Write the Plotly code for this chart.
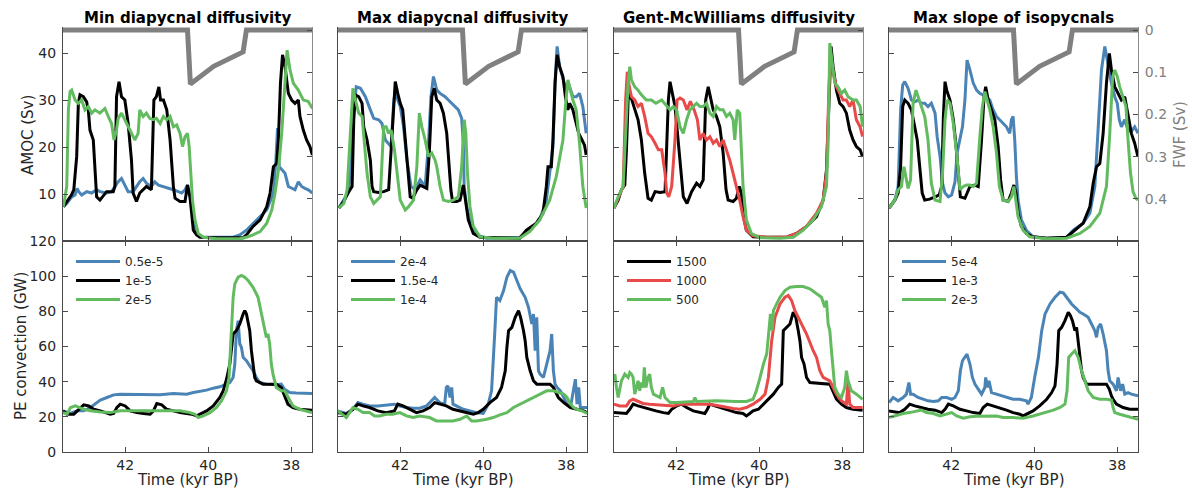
import plotly.graph_objects as go

W, H = 1192, 495

# ---------------------------------------------------------------------------
# Data: time in kyr BP, AMOC in Sv, PE convection in GW, freshwater forcing in Sv
# Each series is a list of (time, value) pairs.
# ---------------------------------------------------------------------------

time_ticks = [42, 40, 38]
amoc_ticks = [10, 20, 30, 40]
pe_ticks = [0, 20, 40, 60, 80, 100, 120]
fwf_ticks = [0, 0.1, 0.2, 0.3, 0.4]
fwf_tick_text = ["0", "0.1", "0.2", "0.3", "0.4"]

# freshwater forcing, identical in all experiments
fwf = [(43.5, 0.0), (40.5, 0.0), (40.43, 0.128), (39.87, 0.086), (39.16, 0.052),
       (39.08, 0.0), (37.5, 0.0)]

# --- Min diapycnal diffusivity ---------------------------------------------
kmin_05_amoc = [(43.49, 7.3), (43.41, 8.0), (43.29, 9.4), (43.21, 9.8), (43.16, 11.2), (43.12, 10.5),
                (43.05, 9.8), (42.93, 10.5), (42.81, 10.2), (42.69, 10.9), (42.61, 10.5), (42.45, 10.2),
                (42.33, 10.5), (42.25, 11.6), (42.17, 12.6), (42.09, 13.3), (42.01, 11.9), (41.93, 10.5),
                (41.81, 10.5), (41.73, 11.6), (41.65, 12.6), (41.57, 13.3), (41.49, 12.3), (41.37, 11.6),
                (41.29, 12.6), (41.20, 11.9), (41.08, 11.6), (40.96, 11.2), (40.84, 10.9), (40.72, 10.5),
                (40.64, 10.2), (40.56, 10.9), (40.50, 11.9), (40.44, 9.4), (40.38, 5.9), (40.28, 1.6),
                (40.12, 0.8), (39.40, 0.8), (39.24, 1.3), (39.08, 2.3), (38.92, 3.8), (38.75, 5.2),
                (38.59, 6.6), (38.43, 10.2), (38.37, 17.2), (38.33, 24.0), (38.29, 15.8), (38.23, 15.1),
                (38.15, 14.4), (38.07, 11.6), (37.99, 11.2), (37.91, 10.9), (37.83, 12.6), (37.75, 11.6),
                (37.67, 11.2), (37.59, 10.9), (37.49, 10.2)]
kmin_1_amoc = [(43.49, 7.3), (43.29, 9.9), (43.24, 10.9), (43.17, 18.0), (43.13, 29.3), (43.09, 31.1),
               (43.01, 30.7), (42.93, 29.6), (42.89, 27.9), (42.85, 23.6), (42.77, 21.5), (42.69, 9.4),
               (42.61, 8.7), (42.45, 10.5), (42.29, 10.5), (42.25, 11.6), (42.21, 30.7), (42.15, 33.9),
               (42.09, 30.7), (42.01, 30.0), (41.93, 25.0), (41.85, 17.2), (41.81, 10.2), (41.73, 8.4),
               (41.65, 10.2), (41.49, 11.6), (41.37, 10.9), (41.31, 30.0), (41.25, 30.7), (41.19, 32.8),
               (41.15, 30.0), (41.08, 30.0), (41.00, 27.9), (40.92, 21.5), (40.84, 11.6), (40.80, 9.1),
               (40.68, 8.4), (40.56, 8.4), (40.50, 11.9), (40.44, 9.4), (40.40, 5.9), (40.36, 2.3),
               (40.28, 1.3), (40.20, 0.8), (39.80, 0.7), (39.16, 0.7), (39.08, 1.3), (38.92, 3.1),
               (38.75, 4.5), (38.59, 7.3), (38.51, 10.2), (38.43, 15.8), (38.35, 16.5), (38.31, 21.5),
               (38.26, 33.6), (38.21, 39.6), (38.15, 37.1), (38.07, 31.4), (37.99, 30.0), (37.91, 29.3),
               (37.83, 30.0), (37.79, 26.5), (37.71, 23.6), (37.63, 21.5), (37.55, 20.1), (37.49, 18.3)]
kmin_2_amoc = [(43.49, 7.3), (43.41, 11.6), (43.37, 27.9), (43.33, 31.8), (43.29, 32.1), (43.21, 30.0),
               (43.13, 29.3), (43.05, 30.0), (42.97, 27.9), (42.89, 28.6), (42.81, 27.2), (42.73, 27.9),
               (42.61, 27.2), (42.49, 28.2), (42.41, 26.5), (42.33, 25.0), (42.27, 21.5), (42.21, 23.6),
               (42.17, 26.1), (42.09, 27.2), (42.01, 25.8), (41.93, 24.3), (41.85, 22.9), (41.77, 21.5),
               (41.69, 22.9), (41.65, 27.9), (41.57, 26.5), (41.49, 27.2), (41.41, 26.1), (41.33, 25.8),
               (41.25, 26.1), (41.16, 25.0), (41.08, 26.5), (41.00, 25.8), (40.92, 26.5), (40.84, 24.3),
               (40.76, 24.7), (40.68, 22.9), (40.62, 20.1), (40.56, 22.2), (40.50, 22.9), (40.46, 20.1),
               (40.43, 15.8), (40.38, 8.7), (40.32, 4.5), (40.24, 1.6), (40.12, 0.8), (39.80, 0.5),
               (39.24, 0.5), (39.08, 0.8), (38.92, 1.3), (38.75, 2.0), (38.59, 3.8), (38.47, 6.6),
               (38.39, 10.2), (38.31, 15.1), (38.23, 22.9), (38.15, 33.6), (38.10, 40.6), (38.03, 36.4),
               (37.95, 33.6), (37.83, 32.1), (37.71, 30.0), (37.59, 29.7), (37.49, 28.2)]
kmin_05_pe = [(43.50, 23.4), (43.32, 21.9), (43.16, 23.4), (43.00, 23.4), (42.84, 25.3), (42.72, 27.2),
              (42.60, 29.5), (42.44, 31.0), (42.28, 32.5), (42.12, 32.9), (41.80, 32.9), (41.64, 32.5),
              (41.32, 32.9), (41.16, 32.5), (40.84, 33.3), (40.52, 32.9), (40.36, 33.8), (40.20, 34.4),
              (40.04, 35.2), (39.88, 36.3), (39.72, 37.1), (39.56, 38.6), (39.48, 39.5), (39.40, 42.4),
              (39.36, 50.0), (39.32, 69.0), (39.28, 74.7), (39.24, 61.4), (39.20, 59.5), (39.16, 53.8),
              (39.08, 51.9), (39.00, 49.0), (38.92, 46.2), (38.84, 42.4), (38.76, 39.5), (38.60, 38.6),
              (38.36, 38.2), (38.24, 38.6), (38.16, 35.7), (38.04, 33.8), (37.88, 33.5), (37.50, 33.3)]
kmin_1_pe = [(43.50, 23.4), (43.40, 21.5), (43.24, 21.5), (43.12, 24.3), (43.00, 26.8), (42.88, 26.2),
             (42.76, 24.3), (42.60, 23.4), (42.48, 22.4), (42.36, 21.5), (42.28, 21.9), (42.20, 25.3),
             (42.12, 27.2), (42.00, 26.2), (41.88, 23.4), (41.72, 22.4), (41.56, 21.9), (41.40, 21.5),
             (41.32, 23.4), (41.24, 27.6), (41.12, 26.8), (41.00, 24.3), (40.84, 23.4), (40.68, 22.4),
             (40.52, 21.9), (40.40, 21.5), (40.28, 20.5), (40.20, 21.5), (40.04, 23.4), (39.88, 26.2),
             (39.72, 31.0), (39.64, 34.8), (39.56, 41.4), (39.48, 50.0), (39.40, 67.1), (39.32, 69.0),
             (39.24, 72.8), (39.16, 78.5), (39.12, 80.4), (39.08, 78.5), (39.04, 72.8), (39.00, 69.0),
             (38.96, 57.6), (38.92, 50.0), (38.88, 42.4), (38.84, 40.5), (38.68, 38.6), (38.36, 38.6),
             (38.24, 36.7), (38.16, 31.9), (38.08, 27.2), (37.96, 25.3), (37.80, 24.3), (37.50, 23.8)]
kmin_2_pe = [(43.50, 22.4), (43.40, 21.5), (43.32, 25.3), (43.20, 26.2), (43.00, 24.3), (42.84, 23.4),
             (42.60, 22.8), (42.36, 22.4), (42.12, 23.4), (41.40, 23.4), (41.00, 23.8), (40.68, 23.4),
             (40.44, 22.4), (40.32, 21.5), (40.24, 19.6), (40.12, 20.5), (39.96, 22.4), (39.80, 25.3),
             (39.68, 29.1), (39.56, 34.8), (39.50, 42.4), (39.46, 59.5), (39.42, 76.6), (39.40, 88.0),
             (39.36, 95.6), (39.28, 99.4), (39.20, 100.4), (39.12, 99.4), (39.04, 97.5), (38.92, 93.7),
             (38.80, 88.0), (38.72, 78.5), (38.64, 69.0), (38.60, 65.2), (38.56, 67.1), (38.52, 61.4),
             (38.48, 50.0), (38.44, 44.3), (38.36, 36.7), (38.24, 34.8), (38.16, 34.8), (38.12, 32.9),
             (38.04, 29.1), (37.96, 26.2), (37.80, 24.3), (37.64, 23.4), (37.50, 22.4)]

# --- Max diapycnal diffusivity ---------------------------------------------
kmax_2_amoc = [(43.48, 7.0), (43.24, 10.5), (43.12, 27.9), (43.06, 32.8), (42.96, 32.5), (42.84, 30.7),
               (42.72, 27.9), (42.64, 26.1), (42.52, 25.8), (42.44, 25.0), (42.36, 21.5), (42.28, 20.8),
               (42.22, 20.1), (42.16, 29.3), (42.12, 32.1), (42.06, 30.0), (42.00, 28.6), (41.92, 24.3),
               (41.84, 17.2), (41.74, 11.6), (41.64, 10.9), (41.52, 13.0), (41.40, 11.6), (41.32, 20.8),
               (41.26, 30.7), (41.20, 35.0), (41.12, 32.1), (41.04, 31.4), (40.92, 30.7), (40.84, 30.0),
               (40.76, 29.3), (40.68, 28.6), (40.60, 27.9), (40.52, 26.1), (40.48, 20.8), (40.46, 11.6),
               (40.40, 7.3), (40.28, 3.1), (40.16, 1.3), (39.92, 0.6), (39.12, 0.8), (38.88, 2.3),
               (38.64, 4.5), (38.48, 8.7), (38.40, 14.4), (38.32, 20.1), (38.26, 35.7), (38.22, 41.4),
               (38.16, 37.1), (38.08, 34.3), (38.00, 32.1), (37.92, 32.8), (37.84, 30.7), (37.76, 30.7),
               (37.68, 31.4), (37.60, 28.6), (37.52, 22.9)]
kmax_15_amoc = [(43.48, 7.0), (43.36, 8.4), (43.24, 10.5), (43.16, 11.6), (43.12, 25.8), (43.08, 31.1),
                (43.00, 30.7), (42.92, 29.3), (42.88, 24.3), (42.80, 21.5), (42.72, 17.2), (42.68, 11.6),
                (42.64, 10.5), (42.52, 10.3), (42.40, 10.5), (42.28, 10.9), (42.22, 19.4), (42.16, 27.2),
                (42.12, 33.9), (42.06, 31.4), (42.00, 29.3), (41.94, 27.9), (41.88, 21.5), (41.82, 14.4),
                (41.76, 9.4), (41.70, 9.1), (41.60, 10.9), (41.52, 11.9), (41.44, 11.6), (41.36, 11.2),
                (41.30, 18.7), (41.24, 30.7), (41.18, 32.5), (41.12, 30.0), (41.04, 29.3), (40.96, 27.2),
                (40.88, 22.9), (40.84, 17.9), (40.78, 10.9), (40.74, 8.4), (40.64, 8.4), (40.56, 8.7),
                (40.48, 11.9), (40.44, 9.4), (40.36, 4.5), (40.24, 1.6), (40.08, 0.8), (39.12, 0.6),
                (38.96, 2.3), (38.72, 3.8), (38.56, 5.9), (38.48, 11.6), (38.44, 15.8), (38.36, 15.8),
                (38.32, 21.5), (38.27, 33.6), (38.22, 39.6), (38.16, 37.1), (38.08, 35.0), (38.02, 30.7),
                (37.96, 27.9), (37.92, 29.3), (37.84, 27.9), (37.76, 25.0), (37.70, 22.9), (37.62, 21.5),
                (37.56, 20.4), (37.52, 18.3)]
kmax_1_amoc = [(43.48, 7.0), (43.36, 8.0), (43.28, 10.9), (43.20, 24.3), (43.14, 32.5), (43.08, 30.0),
               (43.00, 27.2), (42.92, 26.5), (42.86, 19.4), (42.80, 14.4), (42.72, 9.4), (42.64, 8.0),
               (42.56, 8.7), (42.48, 9.4), (42.40, 24.3), (42.34, 24.3), (42.28, 22.9), (42.22, 23.6),
               (42.14, 19.4), (42.08, 14.4), (42.00, 8.7), (41.88, 6.6), (41.80, 7.3), (41.68, 8.7),
               (41.60, 15.8), (41.54, 27.2), (41.48, 24.3), (41.40, 21.5), (41.32, 18.0), (41.24, 18.7),
               (41.16, 17.2), (41.12, 15.8), (41.04, 11.6), (40.96, 8.7), (40.84, 8.4), (40.72, 8.7),
               (40.60, 9.4), (40.52, 15.8), (40.46, 25.8), (40.42, 22.9), (40.38, 14.4), (40.32, 7.3),
               (40.24, 3.1), (40.08, 0.9), (39.76, 0.6), (39.12, 0.6), (38.88, 2.0), (38.64, 4.5),
               (38.40, 8.7), (38.24, 13.7), (38.16, 18.0), (38.08, 21.5), (38.02, 28.6), (37.96, 34.3),
               (37.90, 32.1), (37.84, 30.0), (37.76, 27.9), (37.68, 20.8), (37.60, 11.6), (37.52, 7.0)]
kmax_2_pe = [(43.51, 23.4), (43.30, 21.9), (43.14, 24.3), (43.02, 28.1), (42.90, 27.2), (42.74, 26.2),
             (42.54, 26.2), (42.34, 26.8), (42.14, 27.2), (42.01, 26.2), (41.85, 25.3), (41.69, 24.9),
             (41.53, 24.9), (41.37, 26.2), (41.25, 29.1), (41.17, 31.0), (41.05, 28.1), (40.93, 27.2),
             (40.89, 36.7), (40.85, 37.6), (40.80, 31.0), (40.76, 36.7), (40.73, 27.2), (40.64, 26.2),
             (40.48, 24.3), (40.32, 23.4), (40.16, 22.4), (40.00, 21.9), (39.88, 27.2), (39.80, 34.8),
             (39.76, 50.0), (39.72, 69.0), (39.68, 88.0), (39.60, 86.1), (39.51, 91.8), (39.43, 99.4),
             (39.35, 103.2), (39.27, 102.3), (39.19, 97.5), (39.11, 92.8), (38.99, 88.0), (38.91, 82.3),
             (38.83, 72.8), (38.79, 78.5), (38.75, 57.6), (38.71, 76.6), (38.67, 46.2), (38.63, 44.3),
             (38.55, 42.4), (38.47, 50.0), (38.39, 57.6), (38.35, 67.1), (38.31, 46.2), (38.27, 38.6),
             (38.22, 36.7), (38.14, 34.8), (38.06, 31.0), (37.98, 27.2), (37.90, 25.3), (37.82, 34.8),
             (37.78, 41.4), (37.74, 27.2), (37.70, 36.7), (37.66, 25.3), (37.50, 25.3)]
kmax_15_pe = [(43.51, 22.4), (43.30, 21.5), (43.14, 24.3), (43.02, 27.2), (42.90, 26.2), (42.74, 25.3),
              (42.54, 23.4), (42.34, 22.4), (42.14, 23.4), (42.06, 27.2), (41.93, 26.2), (41.77, 24.3),
              (41.61, 22.4), (41.45, 23.4), (41.29, 25.3), (41.17, 28.1), (41.05, 27.2), (40.89, 26.2),
              (40.73, 24.3), (40.56, 23.4), (40.40, 22.4), (40.24, 21.5), (40.12, 22.4), (40.00, 24.3),
              (39.84, 28.1), (39.68, 31.0), (39.56, 36.7), (39.47, 46.2), (39.43, 59.5), (39.39, 69.0),
              (39.31, 70.9), (39.23, 76.6), (39.15, 80.4), (39.10, 76.6), (39.03, 69.0), (38.99, 63.3),
              (38.95, 53.8), (38.87, 46.2), (38.79, 40.5), (38.71, 38.6), (38.39, 38.6), (38.31, 36.7),
              (38.27, 34.8), (38.19, 31.0), (38.06, 28.1), (37.90, 25.3), (37.74, 24.3), (37.58, 23.4),
              (37.50, 22.4)]
kmax_1_pe = [(43.51, 23.4), (43.39, 21.5), (43.30, 19.6), (43.22, 22.4), (43.14, 25.3), (43.02, 24.3),
             (42.90, 22.4), (42.74, 22.4), (42.62, 20.5), (42.50, 20.5), (42.34, 21.5), (42.18, 21.5),
             (42.01, 22.4), (41.85, 20.5), (41.69, 19.6), (41.53, 20.5), (41.29, 19.6), (41.13, 17.7),
             (40.73, 17.7), (40.56, 18.6), (40.40, 20.5), (40.28, 17.7), (40.16, 17.7), (39.92, 18.6),
             (39.76, 19.6), (39.60, 21.1), (39.43, 22.4), (39.27, 25.3), (39.11, 27.2), (38.95, 29.1),
             (38.79, 31.0), (38.63, 32.9), (38.47, 34.8), (38.31, 34.8), (38.19, 33.8), (38.06, 32.9),
             (37.98, 31.0), (37.90, 27.2), (37.82, 25.3), (37.74, 24.3), (37.62, 23.4), (37.50, 21.9)]

# --- Gent-McWilliams diffusivity -------------------------------------------
gm_1500_amoc = [(43.50, 7.0), (43.40, 8.7), (43.32, 10.9), (43.24, 11.9), (43.20, 19.4), (43.16, 30.0),
                (43.12, 31.4), (43.06, 29.7), (43.00, 27.9), (42.92, 25.8), (42.84, 21.5), (42.76, 14.4),
                (42.68, 9.1), (42.60, 8.7), (42.51, 10.5), (42.39, 10.3), (42.27, 10.5), (42.23, 20.8),
                (42.19, 30.0), (42.15, 33.9), (42.09, 31.1), (42.03, 28.6), (41.97, 22.9), (41.90, 15.8),
                (41.83, 9.4), (41.74, 8.0), (41.63, 10.5), (41.51, 12.3), (41.43, 11.6), (41.35, 13.0),
                (41.29, 30.0), (41.23, 32.8), (41.17, 30.0), (41.11, 27.9), (41.03, 26.5), (40.95, 24.3),
                (40.87, 18.7), (40.80, 10.9), (40.75, 8.7), (40.63, 8.4), (40.55, 9.1), (40.48, 11.6),
                (40.43, 10.2), (40.39, 5.9), (40.31, 2.3), (40.15, 0.9), (39.82, 0.8), (39.34, 0.8),
                (39.10, 1.6), (38.86, 3.1), (38.62, 5.2), (38.46, 8.7), (38.38, 15.1), (38.32, 28.6),
                (38.27, 41.4), (38.22, 37.1), (38.14, 32.1), (38.06, 29.3), (37.98, 28.6), (37.90, 27.2),
                (37.82, 23.6), (37.74, 21.5), (37.66, 20.1), (37.57, 19.4), (37.51, 17.9)]
gm_1000_amoc = [(43.50, 7.0), (43.36, 10.2), (43.28, 11.6), (43.22, 30.0), (43.18, 36.0), (43.13, 32.8),
                (43.08, 30.7), (43.00, 30.0), (42.92, 28.6), (42.84, 29.3), (42.76, 26.5), (42.68, 22.9),
                (42.60, 22.2), (42.51, 20.8), (42.43, 19.4), (42.35, 19.4), (42.31, 17.2), (42.27, 14.4),
                (42.23, 10.2), (42.18, 9.4), (42.11, 11.6), (42.03, 21.5), (41.98, 30.0), (41.91, 30.4),
                (41.83, 30.0), (41.74, 27.9), (41.66, 29.7), (41.57, 27.9), (41.49, 25.8), (41.43, 21.5),
                (41.35, 22.9), (41.27, 21.5), (41.19, 22.2), (41.11, 20.8), (41.03, 21.5), (40.95, 20.1),
                (40.87, 21.5), (40.79, 19.4), (40.71, 17.2), (40.63, 14.4), (40.55, 11.6), (40.47, 8.7),
                (40.39, 5.2), (40.31, 2.3), (40.15, 1.1), (39.82, 0.8), (39.34, 0.8), (39.10, 1.6),
                (38.86, 3.1), (38.62, 5.9), (38.46, 8.7), (38.38, 14.4), (38.32, 32.8), (38.28, 39.2),
                (38.22, 35.7), (38.14, 32.8), (38.06, 31.4), (37.98, 30.0), (37.90, 30.0), (37.82, 28.6),
                (37.74, 30.0), (37.66, 25.8), (37.57, 24.3), (37.51, 22.2)]
gm_500_amoc = [(43.50, 7.0), (43.40, 9.4), (43.28, 11.6), (43.21, 26.5), (43.16, 33.6), (43.12, 37.1),
               (43.08, 34.3), (43.00, 32.8), (42.92, 32.1), (42.84, 31.1), (42.72, 30.0), (42.60, 30.0),
               (42.49, 29.3), (42.35, 30.0), (42.23, 28.6), (42.15, 27.9), (42.07, 28.6), (41.99, 27.9),
               (41.91, 24.3), (41.83, 22.9), (41.75, 25.8), (41.67, 27.9), (41.59, 28.6), (41.51, 29.3),
               (41.43, 28.6), (41.35, 28.6), (41.27, 29.3), (41.19, 27.2), (41.11, 26.5), (41.03, 28.6),
               (40.95, 27.9), (40.87, 27.9), (40.79, 26.5), (40.71, 27.2), (40.63, 25.8), (40.59, 21.5),
               (40.53, 27.9), (40.47, 27.2), (40.43, 19.4), (40.39, 11.6), (40.31, 4.5), (40.19, 1.6),
               (39.98, 0.7), (39.50, 0.6), (39.18, 0.8), (38.94, 2.3), (38.70, 4.5), (38.50, 7.3),
               (38.38, 11.6), (38.34, 20.8), (38.30, 42.1), (38.24, 37.1), (38.18, 33.6), (38.10, 32.8),
               (38.02, 31.4), (37.94, 32.1), (37.86, 30.7), (37.74, 30.0), (37.66, 30.0), (37.57, 28.6),
               (37.51, 24.3)]
gm_1500_pe = [(43.50, 22.4), (43.20, 21.9), (43.12, 24.3), (43.04, 27.2), (42.92, 26.2), (42.80, 25.3),
              (42.64, 24.3), (42.49, 23.4), (42.31, 22.4), (42.19, 21.9), (42.11, 24.3), (41.99, 26.2),
              (41.87, 27.2), (41.75, 25.3), (41.59, 23.4), (41.43, 22.4), (41.31, 21.9), (41.25, 24.3),
              (41.19, 27.2), (41.07, 26.2), (40.95, 25.3), (40.83, 24.3), (40.71, 23.4), (40.55, 22.4),
              (40.39, 21.9), (40.31, 20.5), (40.23, 21.9), (40.15, 23.4), (40.02, 24.3), (39.90, 27.2),
              (39.78, 30.0), (39.66, 32.9), (39.54, 36.7), (39.46, 38.6), (39.42, 69.0), (39.34, 70.9),
              (39.26, 72.8), (39.18, 79.5), (39.12, 76.6), (39.06, 69.0), (39.02, 63.3), (38.98, 53.8),
              (38.92, 50.0), (38.86, 42.4), (38.78, 39.5), (38.30, 38.6), (38.22, 33.8), (38.14, 30.0),
              (38.02, 27.2), (37.90, 25.3), (37.74, 24.3), (37.51, 23.8)]
gm_1000_pe = [(43.50, 27.2), (43.36, 26.2), (43.20, 26.2), (43.12, 29.1), (43.04, 30.0), (42.92, 28.7),
              (42.80, 27.6), (42.64, 27.2), (42.23, 26.2), (42.07, 26.2), (41.91, 27.2), (41.75, 27.2),
              (41.43, 26.8), (41.19, 27.2), (40.95, 26.2), (40.79, 25.3), (40.63, 24.7), (40.47, 24.3),
              (40.31, 25.3), (40.15, 27.2), (39.98, 30.0), (39.86, 32.9), (39.78, 42.4), (39.70, 63.3),
              (39.62, 76.6), (39.50, 84.2), (39.38, 88.0), (39.30, 89.0), (39.22, 86.1), (39.14, 80.4),
              (39.02, 74.7), (38.86, 67.1), (38.70, 57.6), (38.62, 53.8), (38.54, 46.2), (38.46, 42.4),
              (38.38, 41.4), (38.30, 40.5), (38.22, 36.7), (38.14, 32.9), (38.02, 29.1), (37.90, 27.2),
              (37.86, 40.5), (37.82, 27.2), (37.74, 25.3), (37.51, 25.3)]
gm_500_pe = [(43.50, 42.4), (43.48, 44.3), (43.44, 36.7), (43.40, 31.0), (43.32, 40.5), (43.24, 44.3),
             (43.16, 42.4), (43.12, 45.2), (43.08, 44.3), (43.04, 42.4), (43.00, 32.9), (42.96, 36.7),
             (42.92, 40.5), (42.88, 34.8), (42.84, 39.5), (42.80, 36.7), (42.77, 48.1), (42.73, 36.7),
             (42.68, 42.4), (42.64, 44.3), (42.60, 36.7), (42.55, 32.9), (42.47, 31.9), (42.39, 31.0),
             (42.33, 36.7), (42.27, 31.0), (42.15, 28.1), (41.99, 28.1), (41.59, 28.7), (41.55, 31.0),
             (41.51, 28.7), (41.03, 29.1), (40.55, 28.7), (40.31, 28.7), (40.15, 30.0), (40.07, 34.8),
             (39.98, 42.4), (39.90, 50.0), (39.82, 55.7), (39.77, 67.1), (39.73, 78.5), (39.69, 69.0),
             (39.66, 80.4), (39.58, 84.2), (39.50, 88.0), (39.38, 91.8), (39.26, 93.7), (39.10, 94.1),
             (38.94, 94.1), (38.78, 92.8), (38.62, 89.9), (38.50, 88.0), (38.42, 82.3), (38.38, 86.1),
             (38.34, 72.8), (38.30, 69.0), (38.26, 57.6), (38.22, 46.2), (38.18, 36.7), (38.10, 32.9),
             (38.02, 31.0), (37.94, 36.7), (37.90, 46.2), (37.86, 40.5), (37.78, 34.8), (37.66, 32.9),
             (37.51, 30.0)]

# --- Max slope of isopycnals -----------------------------------------------
slope_5e4_amoc = [(43.50, 7.0), (43.36, 8.7), (43.28, 11.6), (43.22, 27.9), (43.17, 33.2), (43.12, 33.9),
                  (43.04, 32.5), (42.96, 30.0), (42.88, 29.6), (42.80, 30.0), (42.72, 29.3), (42.64, 29.3),
                  (42.56, 28.6), (42.48, 29.3), (42.39, 27.2), (42.34, 22.2), (42.27, 18.0), (42.21, 12.3),
                  (42.15, 10.2), (42.07, 9.4), (41.99, 9.8), (41.91, 12.6), (41.86, 18.7), (41.79, 21.5),
                  (41.73, 24.3), (41.67, 30.0), (41.62, 38.5), (41.55, 36.4), (41.47, 33.6), (41.39, 32.1),
                  (41.31, 31.4), (41.23, 31.1), (41.15, 30.7), (41.07, 30.0), (40.99, 27.9), (40.91, 26.5),
                  (40.83, 25.8), (40.75, 25.0), (40.67, 24.3), (40.59, 22.9), (40.55, 25.8), (40.51, 26.5),
                  (40.47, 21.5), (40.43, 13.7), (40.39, 8.7), (40.31, 4.5), (40.19, 2.3), (40.03, 0.9),
                  (39.70, 0.6), (39.22, 0.8), (39.06, 2.3), (38.82, 3.8), (38.66, 5.9), (38.54, 11.6),
                  (38.46, 22.9), (38.38, 36.4), (38.30, 41.4), (38.22, 37.1), (38.14, 33.6), (38.06, 30.7),
                  (38.00, 29.3), (37.95, 25.8), (37.90, 24.3), (37.82, 25.8), (37.74, 23.6), (37.66, 23.3),
                  (37.58, 24.3), (37.50, 22.9)]
slope_1e3_amoc = [(43.50, 7.0), (43.36, 8.7), (43.28, 10.2), (43.22, 15.8), (43.17, 28.6), (43.12, 30.0),
                  (43.04, 29.3), (42.96, 27.9), (42.88, 24.3), (42.82, 21.5), (42.76, 15.8), (42.70, 10.2),
                  (42.64, 8.7), (42.52, 8.9), (42.39, 9.4), (42.29, 9.8), (42.23, 11.6), (42.19, 26.5),
                  (42.15, 33.9), (42.11, 32.1), (42.03, 30.0), (41.95, 25.8), (41.89, 20.8), (41.83, 14.4),
                  (41.78, 9.4), (41.67, 9.1), (41.55, 11.6), (41.43, 11.9), (41.35, 11.6), (41.27, 21.5),
                  (41.21, 30.7), (41.17, 32.8), (41.11, 30.0), (41.03, 27.9), (40.95, 25.8), (40.87, 20.1),
                  (40.81, 13.0), (40.75, 8.7), (40.63, 8.4), (40.55, 10.2), (40.49, 11.9), (40.44, 10.2),
                  (40.39, 5.9), (40.31, 3.1), (40.19, 1.6), (40.03, 0.9), (39.70, 0.6), (39.22, 0.8),
                  (39.06, 2.0), (38.82, 3.8), (38.66, 7.3), (38.58, 12.3), (38.50, 15.8), (38.42, 16.5),
                  (38.34, 22.9), (38.26, 33.6), (38.19, 39.9), (38.14, 36.4), (38.06, 32.8), (37.98, 31.4),
                  (37.90, 30.0), (37.82, 30.7), (37.74, 27.2), (37.66, 22.9), (37.58, 20.8), (37.50, 17.9)]
slope_2e3_amoc = [(43.50, 7.0), (43.36, 8.7), (43.28, 10.9), (43.20, 11.6), (43.14, 15.8), (43.09, 13.0),
                  (43.04, 11.2), (42.98, 13.0), (42.92, 29.3), (42.85, 32.1), (42.80, 30.7), (42.72, 28.6),
                  (42.64, 26.5), (42.56, 21.5), (42.48, 12.3), (42.39, 8.7), (42.27, 8.4), (42.21, 14.4),
                  (42.15, 25.8), (42.10, 30.0), (42.03, 29.3), (41.95, 25.0), (41.87, 18.7), (41.79, 10.9),
                  (41.71, 11.6), (41.63, 11.9), (41.55, 11.9), (41.47, 11.6), (41.39, 12.3), (41.31, 22.2),
                  (41.25, 28.6), (41.19, 31.8), (41.13, 30.0), (41.07, 27.9), (40.99, 24.3), (40.91, 18.7),
                  (40.84, 11.6), (40.75, 8.7), (40.63, 8.4), (40.55, 9.4), (40.49, 11.6), (40.44, 8.7),
                  (40.39, 5.2), (40.27, 2.3), (40.11, 0.9), (39.70, 0.5), (39.22, 0.6), (38.90, 1.6),
                  (38.66, 3.1), (38.42, 5.9), (38.26, 11.6), (38.18, 22.9), (38.11, 35.0), (38.06, 36.4),
                  (38.00, 35.0), (37.94, 32.8), (37.86, 30.7), (37.79, 28.6), (37.74, 21.5), (37.68, 14.4),
                  (37.62, 10.5), (37.55, 9.1), (37.50, 8.7)]
slope_5e4_pe = [(43.50, 28.1), (43.40, 31.0), (43.28, 29.1), (43.16, 31.0), (43.08, 32.9), (43.02, 39.5),
                (42.98, 32.9), (42.92, 32.9), (42.80, 31.0), (42.68, 30.0), (42.56, 29.1), (42.43, 28.7),
                (42.31, 29.1), (42.23, 31.0), (42.11, 31.0), (41.99, 30.0), (41.91, 31.0), (41.83, 34.8),
                (41.78, 46.2), (41.73, 51.9), (41.67, 53.8), (41.62, 55.7), (41.55, 50.0), (41.49, 42.4),
                (41.43, 38.6), (41.35, 35.7), (41.27, 32.9), (41.19, 36.7), (41.17, 42.4), (41.13, 36.7),
                (41.09, 40.5), (41.03, 33.8), (40.91, 32.9), (40.79, 31.9), (40.67, 31.0), (40.51, 30.0),
                (40.35, 30.0), (40.19, 29.1), (40.15, 27.2), (40.07, 31.0), (39.99, 42.4), (39.90, 53.8),
                (39.82, 69.0), (39.74, 78.5), (39.62, 84.2), (39.50, 88.0), (39.38, 90.9), (39.30, 90.5),
                (39.22, 88.0), (39.10, 84.2), (38.98, 81.4), (38.90, 79.5), (38.82, 78.5), (38.70, 76.6),
                (38.62, 72.8), (38.54, 69.0), (38.50, 65.2), (38.46, 70.9), (38.40, 72.8), (38.34, 67.1),
                (38.26, 57.6), (38.22, 46.2), (38.18, 40.5), (38.10, 38.6), (38.02, 34.8), (37.98, 42.4),
                (37.92, 34.8), (37.87, 38.6), (37.82, 32.9), (37.74, 33.8), (37.66, 32.9), (37.50, 31.9)]
slope_1e3_pe = [(43.50, 23.4), (43.24, 22.4), (43.12, 24.3), (43.00, 27.2), (42.88, 26.2), (42.72, 25.3),
                (42.56, 24.3), (42.39, 23.8), (42.23, 22.4), (42.15, 24.3), (42.07, 27.2), (41.95, 26.2),
                (41.79, 24.3), (41.63, 23.4), (41.47, 22.4), (41.31, 21.9), (41.23, 25.3), (41.13, 27.2),
                (40.99, 26.2), (40.83, 25.3), (40.67, 23.8), (40.51, 22.4), (40.35, 21.5), (40.27, 20.5),
                (40.19, 21.5), (40.03, 23.4), (39.87, 26.2), (39.70, 30.0), (39.58, 33.8), (39.50, 37.6),
                (39.45, 50.0), (39.41, 69.0), (39.34, 70.9), (39.26, 74.7), (39.18, 79.5), (39.13, 77.6),
                (39.08, 74.7), (39.02, 69.0), (38.98, 70.9), (38.94, 61.4), (38.90, 53.8), (38.86, 46.2),
                (38.82, 42.4), (38.74, 38.6), (38.26, 38.6), (38.19, 35.7), (38.14, 31.9), (38.10, 30.0),
                (38.02, 27.2), (37.86, 25.3), (37.70, 24.3), (37.50, 24.3)]
slope_2e3_pe = [(43.50, 19.6), (43.36, 20.5), (43.16, 21.9), (43.00, 22.4), (42.84, 23.4), (42.72, 23.8),
                (42.60, 22.4), (42.43, 21.9), (42.27, 20.5), (42.11, 21.5), (41.99, 22.4), (41.87, 20.5),
                (41.71, 19.2), (41.55, 20.0), (41.39, 20.3), (40.91, 20.5), (40.75, 19.6), (40.51, 19.6),
                (40.27, 19.2), (40.03, 20.5), (39.87, 21.5), (39.70, 22.4), (39.54, 23.8), (39.38, 25.3),
                (39.26, 27.2), (39.21, 34.8), (39.17, 53.8), (39.10, 55.7), (39.02, 57.6), (38.94, 53.8),
                (38.86, 46.2), (38.78, 40.5), (38.70, 34.8), (38.58, 31.0), (38.42, 30.0), (38.26, 30.0),
                (38.14, 29.5), (38.10, 25.3), (38.06, 22.4), (37.94, 21.5), (37.78, 20.5), (37.62, 19.2),
                (37.50, 18.6)]

# ---------------------------------------------------------------------------
# Styling
# ---------------------------------------------------------------------------
BLUE = "#4a84b6"
BLACK = "#000000"
GREEN = "#63bb5f"
RED = "#e84a4a"
FWF_GREY = "#808080"
AX = "#4a4a4a"
TXT = "#262626"
FONT = "DejaVu Sans"

panels = [
    dict(title="Min diapycnal diffusivity",
         series=[("0.5e-5", BLUE, kmin_05_amoc, kmin_05_pe),
                 ("1e-5", BLACK, kmin_1_amoc, kmin_1_pe),
                 ("2e-5", GREEN, kmin_2_amoc, kmin_2_pe)]),
    dict(title="Max diapycnal diffusivity",
         series=[("2e-4", BLUE, kmax_2_amoc, kmax_2_pe),
                 ("1.5e-4", BLACK, kmax_15_amoc, kmax_15_pe),
                 ("1e-4", GREEN, kmax_1_amoc, kmax_1_pe)]),
    dict(title="Gent-McWilliams diffusivity",
         series=[("1500", BLACK, gm_1500_amoc, gm_1500_pe),
                 ("1000", RED, gm_1000_amoc, gm_1000_pe),
                 ("500", GREEN, gm_500_amoc, gm_500_pe)]),
    dict(title="Max slope of isopycnals",
         series=[("5e-4", BLUE, slope_5e4_amoc, slope_5e4_pe),
                 ("1e-3", BLACK, slope_1e3_amoc, slope_1e3_pe),
                 ("2e-3", GREEN, slope_2e3_amoc, slope_2e3_pe)]),
]


def split(pairs):
    return [p[0] for p in pairs], [p[1] for p in pairs]


def xp(px):
    return px / W


def yp(py):
    return 1 - py / H


panel_left = [63, 338, 614, 889]
panel_width = 249
top_px, mid_px, bottom_px = 27, 241, 452
# scale of the upper panels: 0 Sv at y=241, 4.7 px per Sv; FWF 0 at y=30, 422 px per Sv
amoc_range = [0, (mid_px - top_px) / 4.7]
fwf_range = [(mid_px - 30) / 422.0, (30 - top_px) / -422.0]

fig = go.Figure()
layout = dict(
    template="none",
    width=W, height=H, margin=dict(l=0, r=0, t=0, b=0, autoexpand=False),
    paper_bgcolor="white", plot_bgcolor="white", showlegend=True,
    font=dict(family=FONT, size=14, color=TXT),
)

axis_base = dict(showline=True, linecolor=AX, linewidth=1, ticks="inside", ticklen=5,
                 tickwidth=1, tickcolor=AX, showgrid=False, zeroline=False, automargin=False,
                 tickfont=dict(family=FONT, size=14, color=TXT))

annotations = []
t_fwf, v_fwf = split(fwf)


def note(text, x, y, size=15, color=TXT, angle=0):
    return dict(text=text, x=x, y=y, xref="paper", yref="paper", xanchor="center",
                yanchor="middle", textangle=angle, showarrow=False,
                font=dict(family=FONT, size=size, color=color))


for i, p in enumerate(panels):
    xt, yt = f"x{i + 1}", f"y{i + 1}"
    xb, yb = f"x{i + 5}", f"y{i + 5}"
    yf = f"y{i + 9}"
    dom_x = [xp(panel_left[i]), xp(panel_left[i] + panel_width)]
    legend_name = "legend" if i == 0 else f"legend{i + 1}"

    # freshwater forcing on the right-hand axis of the upper panel
    fig.add_trace(go.Scatter(x=t_fwf, y=v_fwf, xaxis=xt, yaxis=yf, mode="lines",
                             line=dict(color=FWF_GREY, width=5), showlegend=False,
                             hoverinfo="skip"))
    for name, color, amoc, pe in p["series"]:
        ta, va = split(amoc)
        tp, vp = split(pe)
        fig.add_trace(go.Scatter(x=ta, y=va, xaxis=xt, yaxis=yt, mode="lines",
                                 line=dict(color=color, width=3), showlegend=False))
        fig.add_trace(go.Scatter(x=tp, y=vp, xaxis=xb, yaxis=yb, mode="lines", name=name,
                                 line=dict(color=color, width=3), legend=legend_name))

    layout[f"xaxis{i + 1}"] = dict(axis_base, domain=dom_x, anchor=yt, range=[43.5, 37.5],
                                   tickvals=time_ticks, showticklabels=False)
    layout[f"yaxis{i + 1}"] = dict(axis_base, domain=[yp(mid_px), yp(top_px)], anchor=xt,
                                   range=amoc_range, tickvals=amoc_ticks,
                                   showticklabels=(i == 0), ticklabelstandoff=3)
    layout[f"yaxis{i + 9}"] = dict(axis_base, overlaying=yt, anchor=xt, side="right",
                                   range=fwf_range, tickvals=fwf_ticks, ticktext=fwf_tick_text,
                                   linecolor="#8c8c8c",
                                   showticklabels=(i == 3), ticklabelstandoff=3,
                                   tickfont=dict(family=FONT, size=14, color=FWF_GREY))
    layout[f"xaxis{i + 5}"] = dict(axis_base, domain=dom_x, anchor=yb, range=[43.5, 37.5],
                                   tickvals=time_ticks, mirror="ticks")
    layout[f"yaxis{i + 5}"] = dict(axis_base, domain=[yp(bottom_px), yp(mid_px)], anchor=xb,
                                   range=[0, 120], tickvals=pe_ticks, mirror="ticks",
                                   showticklabels=(i == 0), ticklabelstandoff=3)
    layout[legend_name] = dict(x=xp(panel_left[i] + 8), y=yp(247), xanchor="left", yanchor="top",
                               bgcolor="rgba(0,0,0,0)", borderwidth=0, itemwidth=44,
                               font=dict(family=FONT, size=12, color=TXT))

    cx = xp(panel_left[i] + panel_width / 2)
    annotations.append(note(f"<b>{p['title']}</b>", cx, yp(18), color="black"))
    annotations.append(note("Time (kyr BP)", cx, yp(480)))

annotations.append(note("AMOC (Sv)", xp(28), yp(135), angle=-90))
annotations.append(note("PE convection (GW)", xp(21), yp(346), angle=-90))
annotations.append(note("FWF (Sv)", xp(1180), yp(135), color=FWF_GREY, angle=-90))

layout["annotations"] = annotations
fig.update_layout(**layout)
fig.write_html("out.html")
